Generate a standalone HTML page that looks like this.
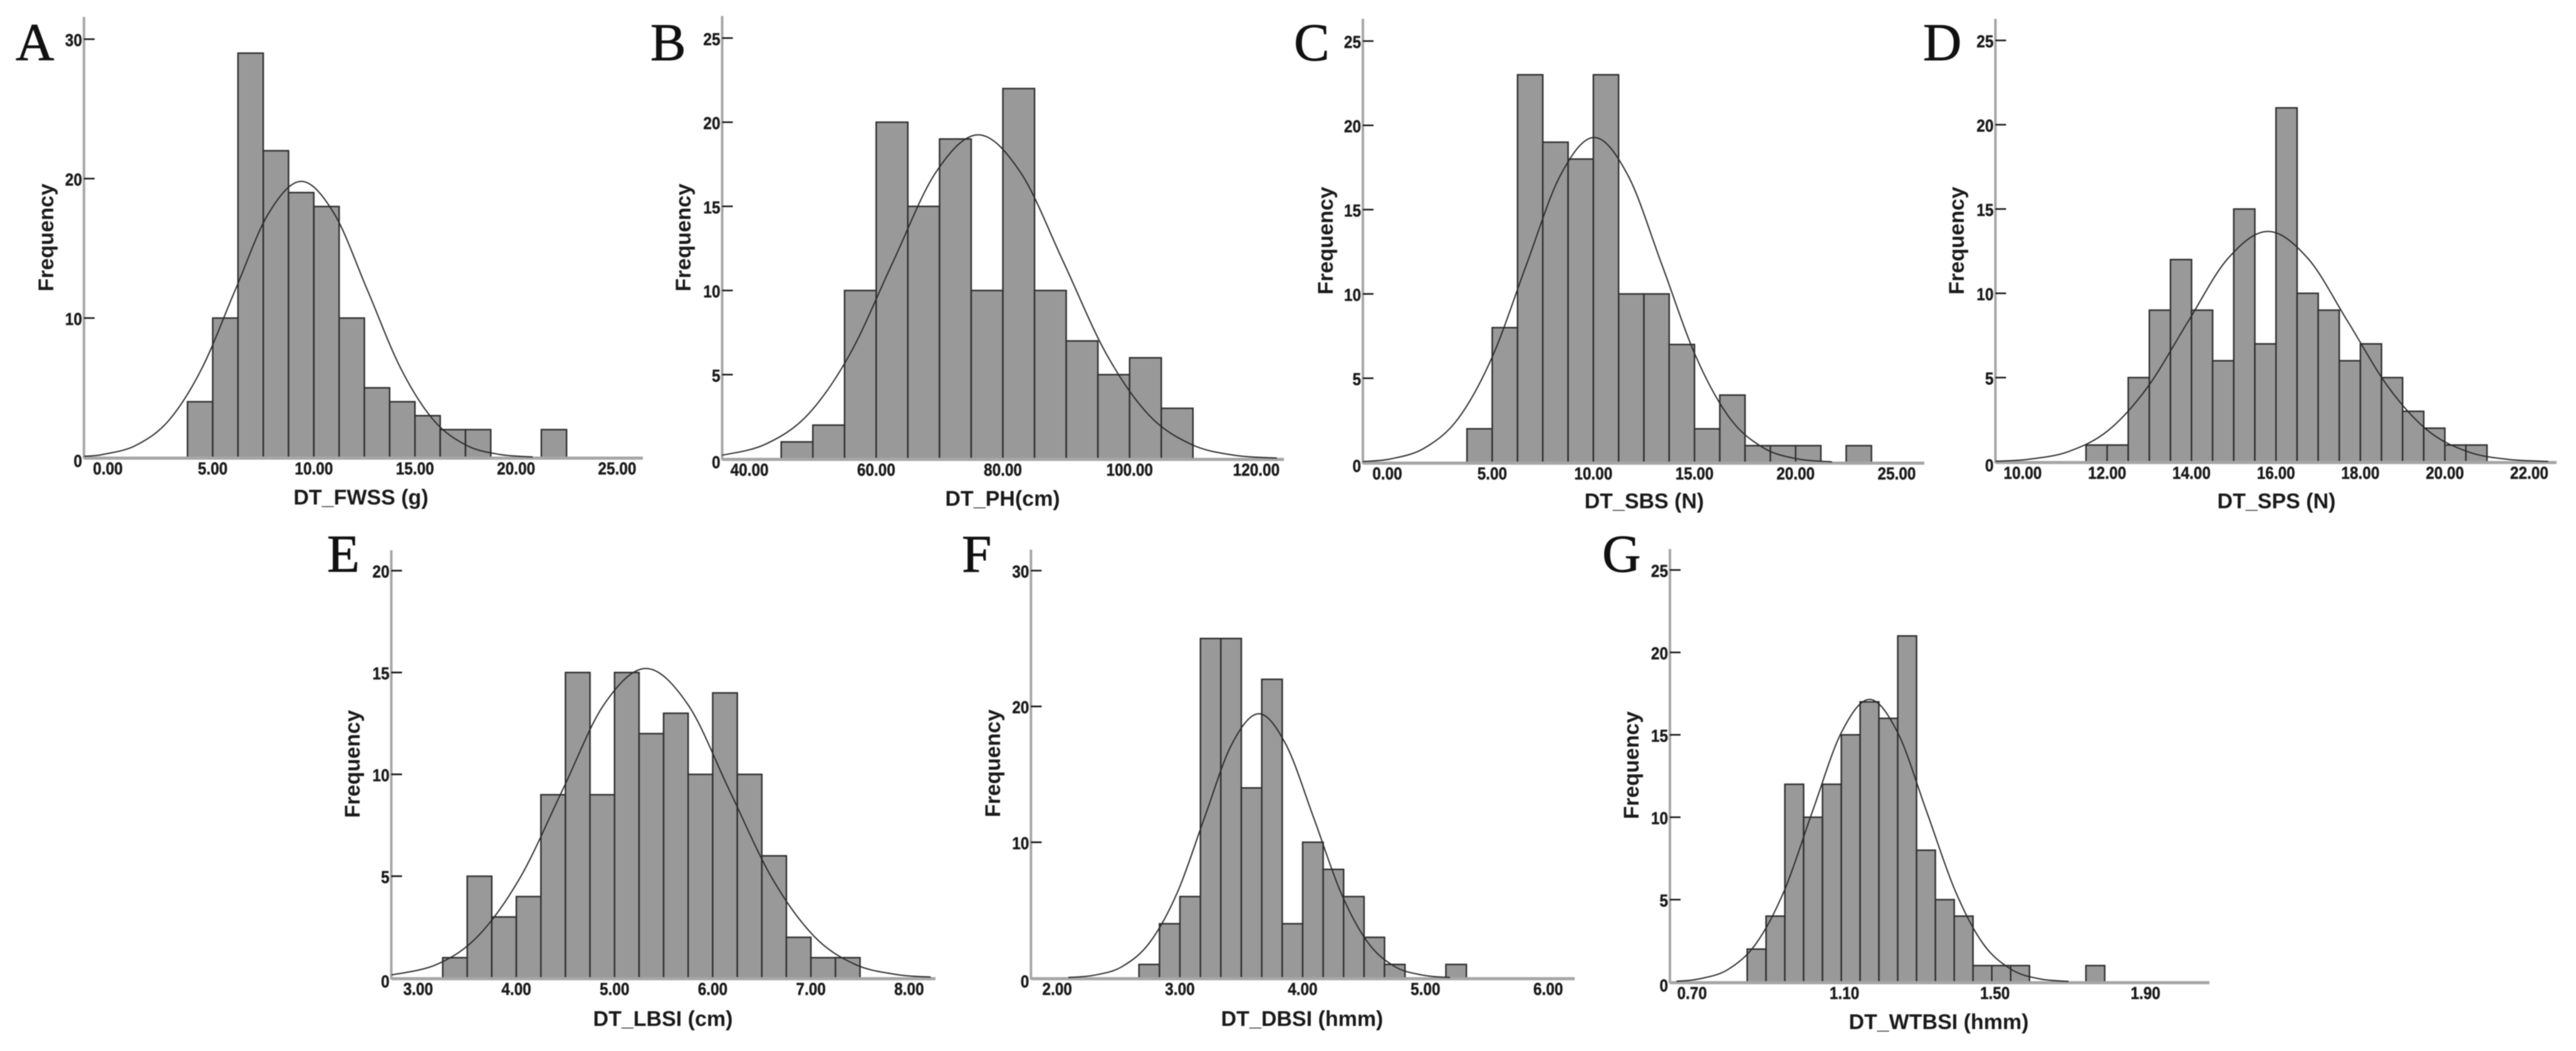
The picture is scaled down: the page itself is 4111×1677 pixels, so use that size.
<!DOCTYPE html>
<html lang="en">
<head>
<meta charset="utf-8">
<title>Frequency histograms of DT traits</title>
<style>
html,body{margin:0;padding:0;background:#fff;}
svg{display:block;filter:blur(0.7px);}
text{font-family:"Liberation Sans",Arial,sans-serif;fill:#111;}
.letter{font-family:"Liberation Serif","Times New Roman",serif;font-size:85px;fill:#111;stroke:#111;stroke-width:0.9px;}
.title{font-size:34px;font-weight:bold;text-anchor:middle;fill:#1a1a1a;}
.tick{font-size:28px;font-weight:bold;fill:#1a1a1a;stroke:#1a1a1a;stroke-width:0.5px;}
</style>
</head>
<body>
<svg id="figure" xmlns="http://www.w3.org/2000/svg" width="4111" height="1677" viewBox="0 0 4111 1677">
<rect width="4111" height="1677" fill="#ffffff"/>

<g id="panel-a">
<text class="letter" x="25" y="96">A</text>
<text class="title" x="576" y="805">DT_FWSS (g)</text>
<text class="title" transform="translate(85,379) rotate(-90)">Frequency</text>
</g>
<g id="panel-b">
<text class="letter" x="1038" y="96">B</text>
<text class="title" x="1600" y="807">DT_PH(cm)</text>
<text class="title" transform="translate(1102,379) rotate(-90)">Frequency</text>
</g>
<g id="panel-c">
<text class="letter" x="2065" y="96">C</text>
<text class="title" x="2624" y="811">DT_SBS (N)</text>
<text class="title" transform="translate(2127,384) rotate(-90)">Frequency</text>
</g>
<g id="panel-d">
<text class="letter" x="3069" y="96">D</text>
<text class="title" x="3633" y="811">DT_SPS (N)</text>
<text class="title" transform="translate(3134,384) rotate(-90)">Frequency</text>
</g>
<g id="panel-e">
<text class="letter" x="522" y="912">E</text>
<text class="title" x="1058" y="1637">DT_LBSI (cm)</text>
<text class="title" transform="translate(574,1219) rotate(-90)">Frequency</text>
</g>
<g id="panel-f">
<text class="letter" x="1535" y="912">F</text>
<text class="title" x="2078" y="1637">DT_DBSI (hmm)</text>
<text class="title" transform="translate(1596,1218) rotate(-90)">Frequency</text>
</g>
<g id="panel-g">
<text class="letter" x="2557" y="912">G</text>
<text class="title" x="3094" y="1642">DT_WTBSI (hmm)</text>
<text class="title" transform="translate(2615,1221) rotate(-90)">Frequency</text>
</g>
</svg>

<script>
// Panel A: DT_FWSS (g)
const fwssCounts = [4,10,29,22,19,18,10,5,4,3,2,2,0,0,2];
const fwssCurveX = [-1.36,-0.43,1.2,2.84,4.475,6.11,7.745,9.38,11.015,12.65,14.285,15.92,17.555,19.19,20.825];
const fwssCurveY = [0.09,0.22,0.87,2.68,6.43,12.0,17.47,19.8,17.47,12.0,6.43,2.68,0.87,0.22,0.04];
const fwssXTicks = [0,5,10,15,20,25];
const fwssYTicks = [0,10,20,30];

// Panel B: DT_PH(cm)
const phCounts = [1,2,10,20,15,19,10,22,10,7,5,6,3];
const phCurveX = [35.69,42.43,49.16,55.9,62.63,69.37,76.1,82.83,89.57,96.3,103.04,109.77,116.51,123.24];
const phCurveY = [0.21,0.85,2.6,6.25,11.68,16.99,19.25,16.99,11.68,6.25,2.6,0.85,0.21,0.04];
const phXTicks = [40,60,80,100,120];
const phYTicks = [0,5,10,15,20,25];

// Panel C: DT_SBS (N)
const sbsCounts = [2,8,23,19,18,23,10,10,7,2,4,1,1,1,0,1];
const sbsCurveX = [-1.39,-0.04,1.64,3.32,5.0,6.68,8.36,10.04,11.72,13.4,15.08,16.76,18.44,20.12,21.8];
const sbsCurveY = [0.06,0.21,0.85,2.61,6.26,11.69,17.01,19.28,17.01,11.69,6.26,2.61,0.85,0.21,0.04];
const sbsXTicks = [0,5,10,15,20,25];
const sbsYTicks = [0,5,10,15,20,25];

// Panel D: DT_SPS (N)
const spsCounts = [1,1,5,9,12,9,6,15,7,21,10,9,6,7,5,3,2,1,1];
const spsCurveX = [9.36,10.12,11.07,12.02,12.96,13.91,14.86,15.81,16.76,17.71,18.66,19.6,20.55,21.5,22.45];
const spsCurveY = [0.04,0.15,0.6,1.85,4.44,8.29,12.06,13.67,12.06,8.29,4.44,1.85,0.6,0.15,0.03];
const spsXTicks = [10,12,14,16,18,20,22];
const spsYTicks = [0,5,10,15,20,25];

// Panel E: DT_LBSI (cm)
const lbsiCounts = [1,5,3,4,9,15,9,15,12,13,10,14,10,6,2,1,1];
const lbsiCurveX = [2.73,3.19,3.61,4.04,4.47,4.89,5.32,5.75,6.17,6.6,7.03,7.45,7.88,8.22];
const lbsiCurveY = [0.15,0.67,2.06,4.94,9.22,13.41,15.2,13.41,9.22,4.94,2.06,0.67,0.17,0.05];
const lbsiXTicks = [3,4,5,6,7,8];
const lbsiYTicks = [0,5,10,15,20];

// Panel F: DT_DBSI (hmm)
const dbsiCounts = [1,4,6,25,25,14,22,4,10,8,6,3,1,0,0,1];
const dbsiCurveX = [2.09,2.31,2.53,2.755,2.98,3.2,3.42,3.643,3.865,4.09,4.31,4.53,4.75,4.975,5.2];
const dbsiCurveY = [0.04,0.22,0.85,2.63,6.32,11.8,17.17,19.46,17.17,11.8,6.32,2.63,0.85,0.22,0.04];
const dbsiXTicks = [2,3,4,5,6];
const dbsiYTicks = [0,10,20,30];

// Panel G: DT_WTBSI (hmm)
const wtbsiCounts = [2,4,12,10,12,15,17,16,21,8,5,4,1,1,1,0,0,0,1];
const wtbsiCurveX = [0.662,0.722,0.798,0.873,0.949,1.024,1.1,1.175,1.25,1.326,1.402,1.477,1.553,1.628,1.704];
const wtbsiCurveY = [0.05,0.19,0.75,2.32,5.57,10.4,15.13,17.15,15.13,10.4,5.57,2.32,0.75,0.19,0.04];
const wtbsiXTicks = [0.7,1.1,1.5,1.9];
const wtbsiYTicks = [0,5,10,15,20,25];

const SVGNS = 'http://www.w3.org/2000/svg';

function make(tag, parent, attrs) {
  const node = document.createElementNS(SVGNS, tag);
  for (const key in attrs) node.setAttribute(key, attrs[key]);
  parent.appendChild(node);
  return node;
}

function smoothPath(pts) {
  let d = 'M' + pts[0][0].toFixed(1) + ' ' + pts[0][1].toFixed(1);
  for (let i = 0; i < pts.length - 1; i++) {
    const p0 = pts[Math.max(i - 1, 0)];
    const p1 = pts[i];
    const p2 = pts[i + 1];
    const p3 = pts[Math.min(i + 2, pts.length - 1)];
    const c1x = p1[0] + (p2[0] - p0[0]) / 6;
    const c1y = p1[1] + (p2[1] - p0[1]) / 6;
    const c2x = p2[0] - (p3[0] - p1[0]) / 6;
    const c2y = p2[1] - (p3[1] - p1[1]) / 6;
    d += 'C' + c1x.toFixed(1) + ' ' + c1y.toFixed(1) + ' ' + c2x.toFixed(1) + ' ' + c2y.toFixed(1) + ' ' + p2[0].toFixed(1) + ' ' + p2[1].toFixed(1);
  }
  return d;
}

function drawPanel(p) {
  const g = document.getElementById(p.id);
  const xScale = function (v) { return p.refPx + (v - p.refVal) * p.pxPerUnit; };
  const yScale = function (c) { return p.baseY - c * p.pxPerCount; };

  // bars
  p.counts.forEach(function (count, i) {
    if (count === 0) return;
    const left = xScale(p.binStart + i * p.binWidth);
    const right = xScale(p.binStart + (i + 1) * p.binWidth);
    const rect = make('rect', g, {
      x: left.toFixed(1), y: yScale(count).toFixed(1),
      width: (right - left).toFixed(1), height: (p.baseY - yScale(count)).toFixed(1),
      fill: '#999999', stroke: '#2e2e2e', 'stroke-width': 2.4
    });
    
    
  });

  // axes
  const yAxis = make('line', g, {
    x1: p.axisX, x2: p.axisX, y1: p.axisTop, y2: p.baseY + 2,
    stroke: '#a6a6a6', 'stroke-width': 4
  });
  
  

  const xAxis = make('line', g, {
    x1: p.axisX, x2: p.axisRight, y1: p.baseY + 1, y2: p.baseY + 1,
    stroke: '#a6a6a6', 'stroke-width': 5
  });
  
  

  // normal curve
  const curvePts = p.curveX.map(function (x, i) { return [xScale(x), yScale(p.curveY[i])]; });
  const curve = make('path', g, {
    d: smoothPath(curvePts), fill: 'none', stroke: '#2a2a2a', 'stroke-width': 2
  });
  
  

  // y ticks and labels
  p.yTicks.forEach(function (t) {
    const y = yScale(t);
    if (t !== 0) {
      const mark = make('line', g, {
        x1: p.axisX, x2: p.axisX + 17, y1: y, y2: y, stroke: '#111111', 'stroke-width': 2.6
      });
      
      
    }
    const label = make('text', g, {
      class: 'tick', 'text-anchor': 'end',
      transform: 'translate(' + (p.axisX - 3) + ',' + (y + (t === 0 ? 15 : 11)) + ') scale(0.87,1)'
    });
    label.textContent = String(t);
    
    
  });

  // x tick labels
  p.xTicks.forEach(function (t, i) {
    const shift = i === 0 ? p.firstLabelDx : p.labelDx;
    const label = make('text', g, {
      class: 'tick', 'text-anchor': 'middle',
      transform: 'translate(' + (xScale(t) + shift).toFixed(1) + ',' + (p.baseY + 27) + ') scale(0.87,1)'
    });
    label.textContent = t.toFixed(2);
    
    
  });
}

drawPanel({ id: 'panel-a', counts: fwssCounts, curveX: fwssCurveX, curveY: fwssCurveY, xTicks: fwssXTicks, yTicks: fwssYTicks,
  binStart: 3.75, binWidth: 1.25, refVal: 5, refPx: 339.5, pxPerUnit: 32.27, axisX: 134, axisTop: 27, axisRight: 1026, baseY: 730, pxPerCount: 22.25, labelDx: 0, firstLabelDx: -6 });
drawPanel({ id: 'panel-b', counts: phCounts, curveX: phCurveX, curveY: phCurveY, xTicks: phXTicks, yTicks: phYTicks,
  binStart: 45, binWidth: 5, refVal: 60, refPx: 1398.3, pxPerUnit: 10.11, axisX: 1152.5, axisTop: 25.5, axisRight: 2049, baseY: 732, pxPerCount: 26.85, labelDx: 0, firstLabelDx: 0 });
drawPanel({ id: 'panel-c', counts: sbsCounts, curveX: sbsCurveX, curveY: sbsCurveY, xTicks: sbsXTicks, yTicks: sbsYTicks,
  binStart: 3.75, binWidth: 1.25, refVal: 5, refPx: 2381.4, pxPerUnit: 32.28, axisX: 2175, axisTop: 30, axisRight: 3071, baseY: 738, pxPerCount: 26.9, labelDx: 0, firstLabelDx: -6 });
drawPanel({ id: 'panel-d', counts: spsCounts, curveX: spsCurveX, curveY: spsCurveY, xTicks: spsXTicks, yTicks: spsYTicks,
  binStart: 11.5, binWidth: 0.5, refVal: 12, refPx: 3362.7, pxPerUnit: 67.37, axisX: 3184.5, axisTop: 30, axisRight: 4080, baseY: 737, pxPerCount: 26.9, labelDx: 0, firstLabelDx: 0 });
drawPanel({ id: 'panel-e', counts: lbsiCounts, curveX: lbsiCurveX, curveY: lbsiCurveY, xTicks: lbsiXTicks, yTicks: lbsiYTicks,
  binStart: 3.25, binWidth: 0.25, refVal: 4, refPx: 824, pxPerUnit: 156.7, axisX: 624.5, axisTop: 878, axisRight: 1493, baseY: 1560.6, pxPerCount: 32.5, labelDx: 0, firstLabelDx: 0 });
drawPanel({ id: 'panel-f', counts: dbsiCounts, curveX: dbsiCurveX, curveY: dbsiCurveY, xTicks: dbsiXTicks, yTicks: dbsiYTicks,
  binStart: 2.6667, binWidth: 0.16667, refVal: 3, refPx: 1883, pxPerUnit: 195.9, axisX: 1645.3, axisTop: 877, axisRight: 2513, baseY: 1560.6, pxPerCount: 21.67, labelDx: 0, firstLabelDx: 0 });
drawPanel({ id: 'panel-g', counts: wtbsiCounts, curveX: wtbsiCurveX, curveY: wtbsiCurveY, xTicks: wtbsiXTicks, yTicks: wtbsiYTicks,
  binStart: 0.85, binWidth: 0.05, refVal: 1.1, refPx: 2938.5, pxPerUnit: 600.6, axisX: 2665, axisTop: 876, axisRight: 3526, baseY: 1567, pxPerCount: 26.3, labelDx: 5, firstLabelDx: 2 });
</script>
</body>
</html>
